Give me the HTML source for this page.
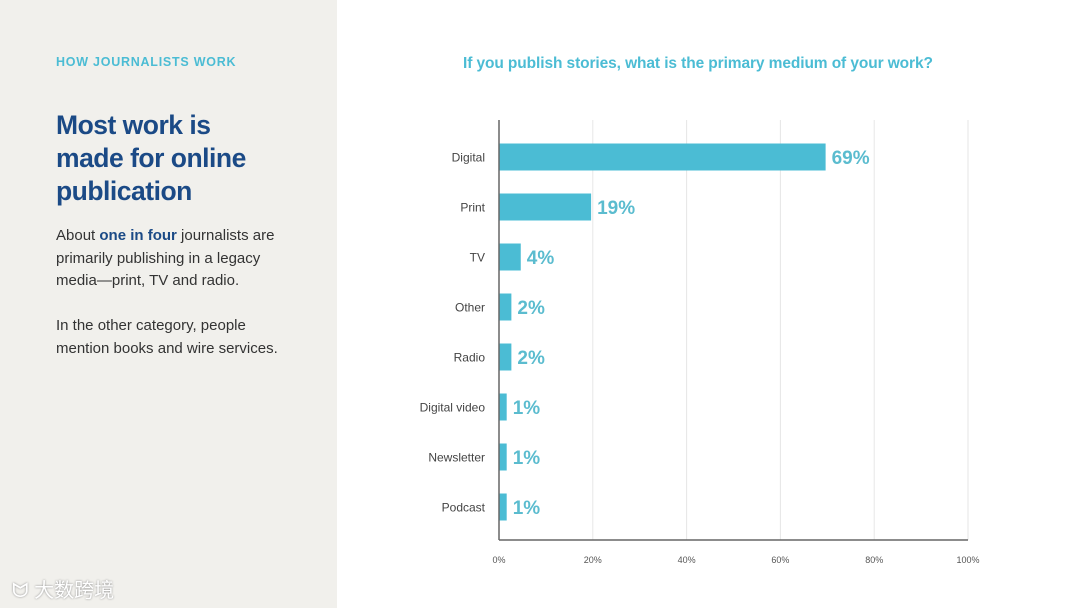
<!DOCTYPE html>
<html><head><meta charset="utf-8"><style>
body{margin:0;width:1080px;height:608px;overflow:hidden;background:#fff;font-family:"Liberation Sans","Noto Sans CJK SC",sans-serif;position:relative}
#left{position:absolute;left:0;top:0;width:337px;height:608px;background:#f1f0ec}
.kicker{position:absolute;left:56px;top:55px;font-size:12.5px;font-weight:bold;color:#4bbcd4;letter-spacing:0.75px}
h1{position:absolute;left:56px;top:109px;margin:0;font-size:26.5px;line-height:33px;color:#1b4a86;font-weight:bold;letter-spacing:-0.5px}
.p{position:absolute;left:56px;font-size:15px;line-height:22.5px;color:#333}
.wm{position:absolute;left:12px;top:574px;font-size:20px;color:#fff;text-shadow:0 0 2px #888}
.title{position:absolute;left:463px;top:55px;font-size:15.5px;font-weight:bold;color:#4bbcd4;letter-spacing:-0.1px}
</style></head><body>
<div id="left">
<div class="kicker">HOW JOURNALISTS WORK</div>
<h1>Most work is<br>made for online<br>publication</h1>
<div class="p" style="top:225px">About <b style="color:#1b4a86">one in four</b> journalists are<br>primarily publishing in a legacy<br>media—print, TV and radio.</div>
<div class="p" style="top:315px">In the other category, people<br>mention books and wire services.</div>
<div class="wm">ᗢ 大数跨境</div>
</div>
<div class="title">If you publish stories, what is the primary medium of your work?</div>
<svg id="chart" width="1080" height="608" style="position:absolute;left:0;top:0"></svg>
<script>
const categories=["Digital","Print","TV","Other","Radio","Digital video","Newsletter","Podcast"];
const values=[69,19,4,2,2,1,1,1];
const ticks=[0,20,40,60,80,100];
const NS="http://www.w3.org/2000/svg";
const svg=document.getElementById('chart');
const x0=499,x1=968,yTop=120,yBot=540;
const xs=v=>x0+(x1-x0)*v/100;
const yc=i=>157+i*50;
function mk(t,a){const e=document.createElementNS(NS,t);for(const k in a)e.setAttribute(k,a[k]);svg.appendChild(e);return e;}
ticks.forEach(t=>{
 if(t>0){const g=mk('line',{x1:xs(t),x2:xs(t),y1:yTop,y2:yBot,stroke:'#e6e6e6','stroke-width':1});
 
 }
 const l=mk('text',{x:xs(t),y:563,'text-anchor':'middle','font-size':9,fill:'#555','font-family':'Liberation Sans'});
 l.textContent=t+'%';
 
 
});
categories.forEach((c,i)=>{
 const b=mk('rect',{x:x0,y:yc(i)-13.5,width:xs(values[i])-x0+3,height:27,fill:'#4bbcd4'});
 
 
 const l=mk('text',{x:485,y:yc(i)+4.5,'text-anchor':'end','font-size':12,fill:'#444','font-family':'Liberation Sans'});
 l.textContent=c;
 
 
 const v=mk('text',{x:xs(values[i])+9,y:yc(i)+7,'font-size':19,'font-weight':'bold',fill:'#5bbccf','font-family':'Liberation Sans'});
 v.textContent=values[i]+'%';
 
 
});
const ay=mk('line',{x1:x0,x2:x0,y1:yTop,y2:yBot,stroke:'#666','stroke-width':1.5});


const ax=mk('line',{x1:x0,x2:x1,y1:yBot,y2:yBot,stroke:'#666','stroke-width':1.5});


</script>
</body></html>
